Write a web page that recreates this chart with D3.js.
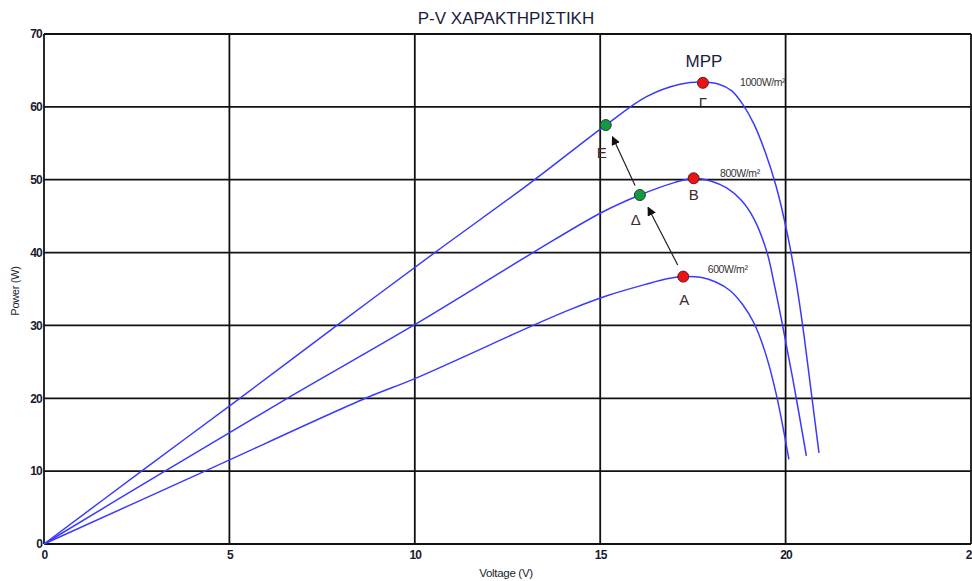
<!DOCTYPE html>
<html><head><meta charset="utf-8">
<script src="https://cdn.jsdelivr.net/npm/d3@7"></script>
<style>body{margin:0;background:#fff}svg{display:block}text{font-family:"Liberation Sans",Arial,sans-serif}</style>
</head><body><svg id="c" width="972" height="581"></svg>
<script>
const xTicks = [0,5,10,15,20,25];
const yTicks = [0,10,20,30,40,50,60,70];
const seriesNames = ["1000W/m²","800W/m²","600W/m²"];
const v1000 = [0,2.63,5.28,7.9,10.54,13.1,15.15,16.25,17.15,17.77,18.2,18.55,18.85,19.15,19.45,19.75,20.05,20.3,20.5,20.7,20.9];
const p1000 = [0,10,20,30,40,49.5,57.5,61.4,63.1,63.4,63.1,62.2,60.3,57.6,53.8,49,42.5,35.5,28.5,20.5,12.5];
const v800 = [0,3.26,6.56,9.96,13.19,15,16.07,17.0,17.52,18.0,18.4,18.8,19.15,19.5,19.7,19.9,20.2,20.56];
const p800 = [0,10,20,30,40,45.4,47.9,49.6,50.2,49.8,48.9,47.2,44.6,40,35.5,30.5,22.5,12.1];
const v600 = [0,4.34,8.67,10,13.19,14.2,15.2,16.2,16.8,17.24,17.7,18.1,18.5,18.85,19.15,19.45,19.75,20.09];
const p600 = [0,10,20,22.7,30,32.2,34.1,35.6,36.4,36.7,36.6,36.0,34.8,32.8,30.3,26.3,20.5,11.6];
const mppNames = ["A","B","Γ"];
const mppV = [17.24,17.52,17.77];
const mppP = [36.7,50.2,63.3];
const movedNames = ["Δ","E"];
const movedV = [16.07,15.15];
const movedP = [47.9,57.5];

const svg = d3.select("#c");
const x = d3.scaleLinear().domain([0,25]).range([44,971]);
const y = d3.scaleLinear().domain([0,70]).range([544,34]);
const ink = "#1b1b2e";

// grid
svg.append("g").selectAll("line").data(xTicks).join("line")
  .attr("x1",d=>x(d)).attr("x2",d=>x(d)).attr("y1",y(0)).attr("y2",y(70))
  .attr("stroke","#111").attr("stroke-width",1.8);
svg.append("g").selectAll("line").data(yTicks).join("line")
  .attr("x1",x(0)).attr("x2",x(25)).attr("y1",d=>y(d)).attr("y2",d=>y(d))
  .attr("stroke","#111").attr("stroke-width",1.8);

// axes labels
const xa = svg.append("g").attr("transform",`translate(0,${y(0)})`)
  .call(d3.axisBottom(x).tickValues(xTicks).tickSize(0).tickPadding(6));
xa.select(".domain").remove();
xa.selectAll("text").attr("font-size",12).attr("font-weight","bold").attr("letter-spacing",-0.8).attr("fill",ink).attr("font-family","Liberation Sans, Arial");
const ya = svg.append("g").attr("transform",`translate(${x(0)},0)`)
  .call(d3.axisLeft(y).tickValues(yTicks).tickSize(0).tickPadding(2));
ya.select(".domain").remove();
ya.selectAll("text").attr("font-size",12).attr("font-weight","bold").attr("letter-spacing",-0.8).attr("fill",ink).attr("font-family","Liberation Sans, Arial");

svg.append("text").attr("x",506).attr("y",24).attr("text-anchor","middle")
  .attr("font-size",17).attr("fill","#1c1c40").text("P-V ΧΑΡΑΚΤΗΡΙΣΤΙΚΗ");
svg.append("text").attr("x",506).attr("y",577).attr("text-anchor","middle")
  .attr("font-size",11.5).attr("letter-spacing",-0.3).attr("fill",ink).text("Voltage (V)");
svg.append("text").attr("transform","translate(19,291) rotate(-90)").attr("text-anchor","middle")
  .attr("font-size",11).attr("letter-spacing",-0.3).attr("fill",ink).text("Power (W)");

// curves
const line = d3.line().x(d=>x(d[0])).y(d=>y(d[1])).curve(d3.curveCatmullRom.alpha(0.5));
const series = [[v1000,p1000],[v800,p800],[v600,p600]];
svg.append("g").selectAll("path").data(series).join("path")
  .attr("d",s=>line(s[0].map((v,i)=>[v,s[1][i]])))
  .attr("fill","none").attr("stroke","#3a3aff").attr("stroke-width",1.5);

// irradiance labels
const labPos = [[18.77,62.9],[18.23,50.4],[17.9,37.2]];
svg.append("g").selectAll("text").data(seriesNames).join("text")
  .attr("x",(d,i)=>x(labPos[i][0])).attr("y",(d,i)=>y(labPos[i][1]))
  .attr("font-size",10.5).attr("letter-spacing",-0.4).attr("fill","#333").text(d=>d);

// arrows
svg.append("defs").append("marker").attr("id","ah").attr("viewBox","0 0 10 10")
  .attr("refX",9).attr("refY",5).attr("markerWidth",9).attr("markerHeight",9)
  .attr("markerUnits","userSpaceOnUse").attr("orient","auto")
  .append("path").attr("d","M0,0 L10,5 L0,10 Z").attr("fill","#111");
const arrows = [[mppV[0]-0.15,mppP[0]+1.6,movedV[0]+0.22,movedP[0]-1.7],[movedV[0]-0.13,movedP[0]+1.3,movedV[1]+0.18,movedP[1]-1.6]];
svg.append("g").selectAll("line").data(arrows).join("line")
  .attr("x1",d=>x(d[0])).attr("y1",d=>y(d[1])).attr("x2",d=>x(d[2])).attr("y2",d=>y(d[3]))
  .attr("stroke","#222").attr("stroke-width",1.2).attr("marker-end","url(#ah)");

// points
svg.append("g").selectAll("circle").data(mppV).join("circle")
  .attr("cx",d=>x(d)).attr("cy",(d,i)=>y(mppP[i])).attr("r",5.5)
  .attr("fill","#ee1111").attr("stroke","#552222").attr("stroke-width",1);
svg.append("g").selectAll("circle").data(movedV).join("circle")
  .attr("cx",d=>x(d)).attr("cy",(d,i)=>y(movedP[i])).attr("r",5.5)
  .attr("fill","#119944").attr("stroke","#224422").attr("stroke-width",1);

// point labels
const lblDy = [28,22,25];
svg.append("g").selectAll("text").data(mppNames).join("text")
  .attr("x",(d,i)=>x(mppV[i])+(i==0?1:0)).attr("y",(d,i)=>y(mppP[i])+lblDy[i])
  .attr("text-anchor","middle").attr("font-size",15).attr("fill","#3a2a2a").text(d=>d);
svg.append("g").selectAll("text").data(movedNames).join("text")
  .attr("x",(d,i)=>x(movedV[i])-4).attr("y",(d,i)=>y(movedP[i])+(i==0?30:33))
  .attr("text-anchor","middle").attr("font-size",15).attr("fill","#3a2a2a").text(d=>d);
svg.append("text").attr("x",x(mppV[2])+1).attr("y",y(mppP[2])-16).attr("text-anchor","middle")
  .attr("font-size",17).attr("fill","#1c1c40").text("MPP");
</script></body></html>
